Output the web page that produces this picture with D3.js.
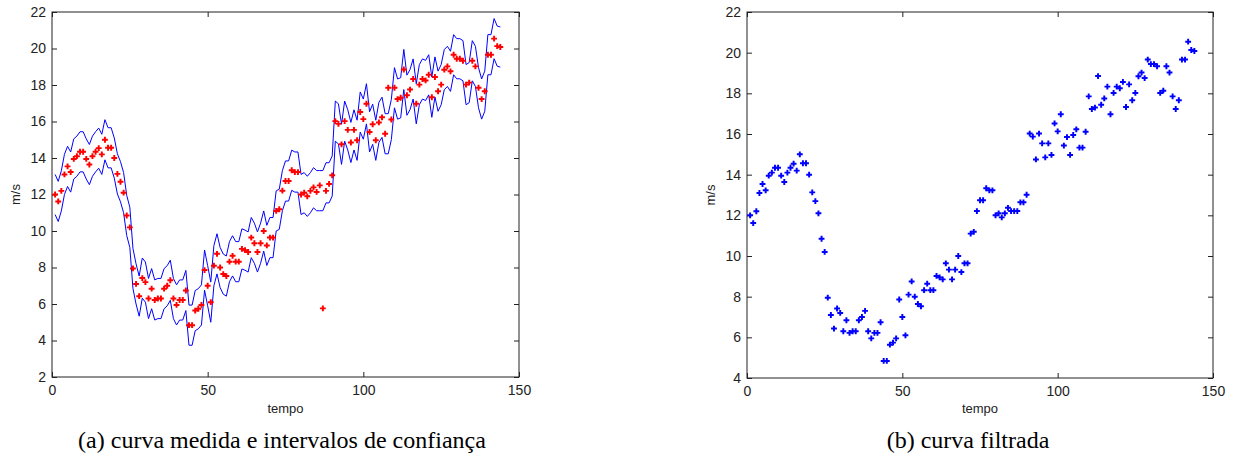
<!DOCTYPE html>
<html>
<head>
<meta charset="utf-8">
<script src="https://cdn.jsdelivr.net/npm/d3@7"></script>
<style>
body { margin:0; background:#fff; }
.tick text { font-family:"Liberation Sans", Arial, sans-serif; font-size:14px; fill:#222; }
.tick line { stroke:#222; }
.lbl { font-family:"Liberation Sans", Arial, sans-serif; font-size:13px; fill:#222; }
.cap { font-family:"Liberation Serif", "Times New Roman", serif; font-size:24px; fill:#000; }
</style>
</head>
<body>
<script>
// filtered curve (right panel) - m/s per time step
var filtrada = [
12.0, 11.62, 12.2, 13.1, 13.54, 13.23, 13.95, 14.1, 14.34, 14.34,
13.95, 13.64, 14.1, 14.34, 14.54, 14.2, 15.0, 14.56, 14.56, 14.0,
13.13, 12.7, 12.1, 10.85, 10.2, 7.95, 7.1, 6.43, 7.42, 7.2,
6.3, 6.84, 6.22, 6.3, 6.3, 6.84, 7.0, 7.3, 6.3, 5.95,
6.22, 6.22, 6.74, 4.84, 4.84, 5.64, 5.74, 5.95, 7.86, 7.0,
6.1, 8.1, 8.75, 8.0, 7.64, 7.53, 8.32, 8.64, 8.32, 8.32,
9.02, 8.95, 8.85, 9.64, 9.33, 8.85, 9.33, 10.0, 9.21, 9.64,
9.64, 11.1, 11.19, 12.21, 12.74, 12.74, 13.33, 13.23, 13.23, 12.0,
12.1, 11.9, 12.1, 12.37, 12.21, 12.21, 12.21, 12.64, 12.64, 13.01,
16.02, 15.87, 14.75, 16.02, 15.54, 14.85, 15.54, 14.97, 16.52, 16.13,
16.97, 15.43, 15.85, 14.97, 15.95, 16.23, 15.33, 15.33, 16.11, 17.85,
17.23, 17.3, 18.85, 17.44, 17.75, 18.33, 16.97, 18.02, 18.33, 18.25,
18.56, 17.33, 18.44, 17.66, 18.02, 18.84, 19.02, 18.75, 19.66, 19.44,
19.44, 19.33, 18.02, 18.13, 19.33, 19.02, 17.85, 17.23, 17.66, 19.66,
19.66, 20.54, 20.13, 20.08];
// measured curve (left panel, red)
var medida = [
12.0, 11.62, 12.2, 13.1, 13.54, 13.23, 13.95, 14.1, 14.34, 14.34,
13.95, 13.64, 14.1, 14.34, 14.54, 14.2, 15.0, 14.56, 14.56, 14.0,
13.13, 12.7, 12.1, 10.85, 10.2, 7.95, 7.1, 6.43, 7.42, 7.2,
6.3, 6.84, 6.22, 6.3, 6.3, 6.84, 7.0, 7.3, 6.3, 5.95,
6.22, 6.22, 6.74, 4.84, 4.84, 5.64, 5.74, 5.95, 7.86, 7.0,
6.1, 8.1, 8.75, 8.0, 7.64, 7.53, 8.32, 8.64, 8.32, 8.32,
9.02, 8.95, 8.85, 9.64, 9.33, 8.85, 9.33, 10.0, 9.21, 9.64,
9.64, 11.1, 11.19, 12.21, 12.74, 12.74, 13.33, 13.23, 13.23, 12.0,
12.1, 11.9, 12.2, 12.39, 12.14, 12.5, 5.76, 12.2, 12.58, 13.05,
16.02, 15.87, 14.75, 16.02, 15.54, 14.85, 15.54, 14.97, 16.52, 16.13,
16.97, 15.43, 15.85, 14.97, 15.95, 16.23, 15.33, 17.85, 16.11, 17.85,
17.23, 17.3, 18.85, 17.44, 17.75, 18.33, 16.97, 18.02, 18.33, 18.25,
18.56, 17.33, 18.44, 17.66, 18.02, 18.84, 19.02, 18.75, 19.66, 19.44,
19.44, 19.33, 18.02, 18.13, 19.33, 19.02, 17.85, 17.23, 17.66, 19.66,
19.66, 20.54, 20.13, 20.08];
var intervalo = 1.1; // half width of confidence band
var tempo = filtrada.map(function(d, i){ return i + 1; });
var xTicks = [0, 50, 100, 150];
var yTicksA = [2, 4, 6, 8, 10, 12, 14, 16, 18, 20, 22];
var yTicksB = [4, 6, 8, 10, 12, 14, 16, 18, 20, 22];
var captions = ["(a) curva medida e intervalos de confiança", "(b) curva filtrada"];

var svg = d3.select("body").append("svg")
	.attr("width", 1235)
	.attr("height", 459);
svg.append("rect").attr("width", 1235).attr("height", 459).attr("fill", "#fff");

function drawAxes(x, y, yTicks, cap, capX){
	var g = svg.append("g");
	var x0 = x.range()[0], x1 = x.range()[1], y0 = y.range()[1], y1 = y.range()[0];
	g.append("g").attr("transform", "translate(0," + y1 + ")")
		.call(d3.axisBottom(x).tickValues(xTicks).tickSizeInner(-5).tickSizeOuter(0).tickPadding(8));
	g.append("g").attr("transform", "translate(0," + y0 + ")")
		.call(d3.axisTop(x).tickValues(xTicks).tickSizeInner(-5).tickSizeOuter(0).tickFormat(""));
	g.append("g").attr("transform", "translate(" + x0 + ",0)")
		.call(d3.axisLeft(y).tickValues(yTicks).tickSizeInner(-5).tickSizeOuter(0).tickPadding(6));
	g.append("g").attr("transform", "translate(" + x1 + ",0)")
		.call(d3.axisRight(y).tickValues(yTicks).tickSizeInner(-5).tickSizeOuter(0).tickFormat(""));
	g.selectAll(".domain").remove();
	g.append("rect")
		.attr("x", x0).attr("y", y0)
		.attr("width", x1 - x0).attr("height", y1 - y0)
		.attr("fill", "none").attr("stroke", "#222").attr("stroke-width", 1);
	g.append("text").attr("class", "lbl")
		.attr("x", (x0 + x1) / 2).attr("y", 413)
		.attr("text-anchor", "middle").text("tempo");
	g.append("text").attr("class", "lbl")
		.attr("transform", "translate(" + (x0 - 32) + "," + ((y0 + y1) / 2) + ") rotate(-90)")
		.attr("text-anchor", "middle").text("m/s");
	svg.append("text").attr("class", "cap")
		.attr("x", capX).attr("y", 448)
		.attr("text-anchor", "middle").text(cap);
	return g;
}

//left panel
var xA = d3.scaleLinear().domain([0, 150]).range([52, 519]);
var yA = d3.scaleLinear().domain([2, 22]).range([377, 12]);
drawAxes(xA, yA, yTicksA, captions[0], 282);

var lineA = d3.line().x(function(d, i){ return xA(tempo[i]); });
svg.append("path")
	.attr("d", lineA.y(function(d){ return yA(d + intervalo); })(filtrada))
	.attr("fill", "none").attr("stroke", "#0000ff").attr("stroke-width", 1);
svg.append("path")
	.attr("d", lineA.y(function(d){ return yA(d - intervalo); })(filtrada))
	.attr("fill", "none").attr("stroke", "#0000ff").attr("stroke-width", 1);

var marker = d3.symbol().type(d3.symbolCross).size(19);
svg.append("g").selectAll("path").data(medida).enter().append("path")
	.attr("d", marker)
	.attr("transform", function(d, i){ return "translate(" + xA(tempo[i]) + "," + yA(d) + ")"; })
	.attr("fill", "#ff0000");

//right panel
var xB = d3.scaleLinear().domain([0, 150]).range([747, 1213]);
var yB = d3.scaleLinear().domain([4, 22]).range([378, 12]);
drawAxes(xB, yB, yTicksB, captions[1], 968);

svg.append("g").selectAll("path").data(filtrada).enter().append("path")
	.attr("d", marker)
	.attr("transform", function(d, i){ return "translate(" + xB(tempo[i]) + "," + yB(d) + ")"; })
	.attr("fill", "#0000ff");
</script>
</body>
</html>
